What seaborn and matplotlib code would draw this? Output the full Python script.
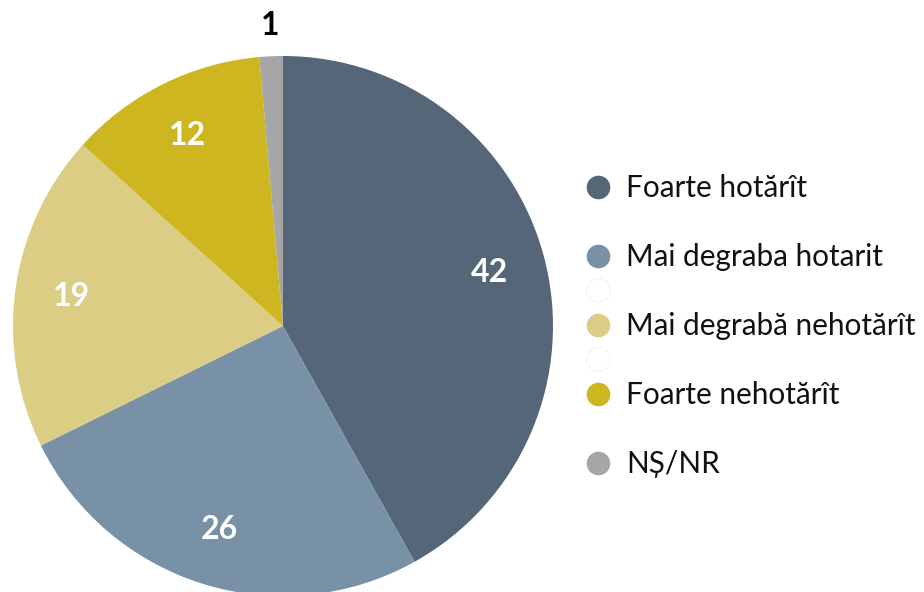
import matplotlib
matplotlib.use("Agg")
import matplotlib.pyplot as plt
from matplotlib.lines import Line2D
import numpy as np
import seaborn as sns

categories = ["Foarte hotărît", "Mai degraba hotarit", "Mai degrabă nehotărît",
              "Foarte nehotărît", "NȘ/NR"]
values = [41.9, 25.8, 19.0, 11.9, 1.4]
value_labels = ["42", "26", "19", "12", "1"]
colors = ["#546678", "#7891a6", "#dccd85", "#cdb620", "#a6a6a6"]

sns.set_theme(style="white")
plt.rcParams['font.family'] = ['Lato', 'DejaVu Sans']

W, H = 924, 592
fig = plt.figure(figsize=(W / 100, H / 100), dpi=100)
cx, cy, R = 283, 326, 270
ax = fig.add_axes([(cx - R) / W, (H - cy - R) / H, 2 * R / W, 2 * R / H])

wedges, _ = ax.pie(values, colors=colors, startangle=90, counterclock=False,
                   radius=1, wedgeprops=dict(linewidth=0), frame=True)
ax.set_xlim(-1, 1)
ax.set_ylim(-1, 1)
ax.axis("off")

for w, lab, v in zip(wedges, value_labels, values):
    ang = np.deg2rad((w.theta1 + w.theta2) / 2)
    if v < 3:
        r, col = 1.115, "black"
    else:
        r, col = 0.79, "white"
    ax.text(r * np.cos(ang), r * np.sin(ang), lab, ha="center", va="center",
            fontsize=23, fontweight="bold", color=col, clip_on=False)

# legend rows (with spacer / ghost rows as in the reference)
handles, labels = [], []
rows = [0, None, 1, "ghost", 2, "ghost", 3, None, 4]
for r in rows:
    if r is None:
        handles.append(Line2D([], [], linestyle="none", marker="o", markersize=17,
                              markerfacecolor="none", markeredgecolor="none"))
        labels.append(" ")
    elif r == "ghost":
        handles.append(Line2D([], [], linestyle="none", marker="o", markersize=17,
                              markerfacecolor="white", markeredgecolor="#f3f3f3",
                              markeredgewidth=0.8))
        labels.append(" ")
    else:
        handles.append(Line2D([], [], linestyle="none", marker="o", markersize=17,
                              markerfacecolor=colors[r], markeredgecolor="none"))
        labels.append(categories[r])

leg = fig.legend(handles, labels, loc="upper left",
                 bbox_to_anchor=(583 / W, 1 - 174 / H), frameon=False,
                 fontsize=21.4, labelspacing=0.22, handlelength=1.0,
                 handletextpad=0.45, borderpad=0, borderaxespad=0)
for t in leg.get_texts():
    t.set_color("#111111")

fig.savefig("out.png", dpi=100)
